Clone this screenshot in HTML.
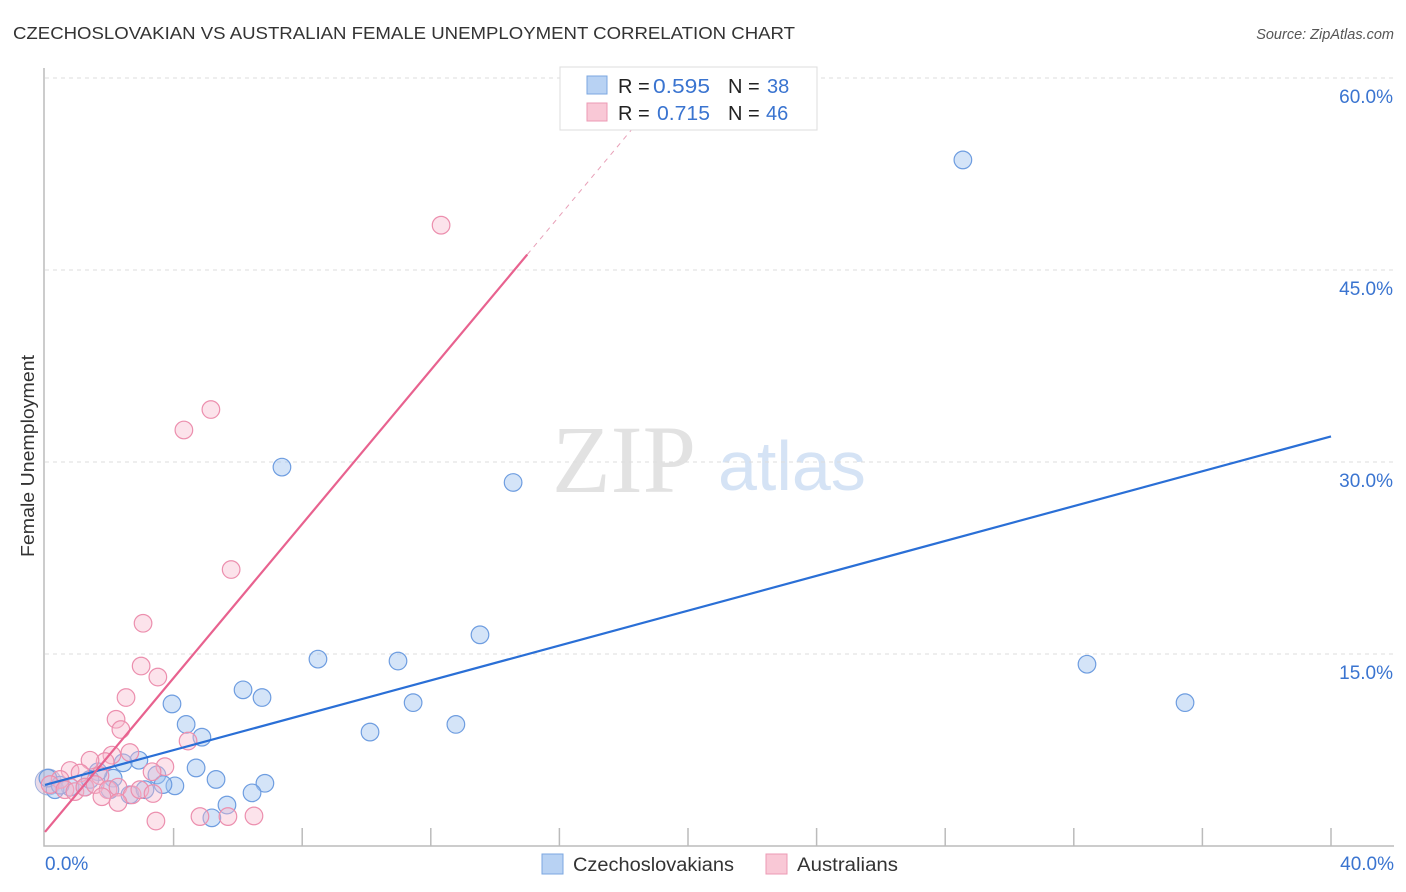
<!DOCTYPE html>
<html><head><meta charset="utf-8"><style>
body{margin:0;background:#fff;font-family:"Liberation Sans",sans-serif;}
svg{display:block}
</style></head><body>
<svg id="chart" width="1406" height="892">
<text x="13" y="39" font-size="17.5" fill="#333" textLength="782" lengthAdjust="spacingAndGlyphs">CZECHOSLOVAKIAN VS AUSTRALIAN FEMALE UNEMPLOYMENT CORRELATION CHART</text>
<text x="1394" y="39" font-size="14.5" fill="#555" font-style="italic" text-anchor="end">Source: ZipAtlas.com</text>
<text x="34" y="456" font-size="18" fill="#333" text-anchor="middle" textLength="202" lengthAdjust="spacingAndGlyphs" transform="rotate(-90 34 456)">Female Unemployment</text>
<g>
<text x="552" y="492" font-size="96" fill="#e2e2e2" font-family="Liberation Serif,serif">ZIP</text>
<text x="718" y="490" font-size="70" fill="#d5e3f5">atlas</text>
</g>
<g id="grid"></g><g id="axes"></g><g id="pts"></g><g id="lines"></g>
<g>
<rect x="560" y="67" width="257" height="63" fill="#fff" stroke="#ddd"/>
<rect x="587" y="76" width="20" height="18" fill="#b8d2f3" stroke="#7ba7e0"/>
<rect x="587" y="103" width="20" height="18" fill="#f9c8d6" stroke="#ec9ab4"/>
<text y="93" font-size="20" fill="#222"><tspan x="618">R =</tspan><tspan x="653" fill="#3a74d0" textLength="57" lengthAdjust="spacingAndGlyphs">0.595</tspan><tspan x="728">N =</tspan><tspan x="767" fill="#3a74d0">38</tspan></text>
<text y="120" font-size="20" fill="#222"><tspan x="618">R =</tspan><tspan x="657" fill="#3a74d0" textLength="53" lengthAdjust="spacingAndGlyphs">0.715</tspan><tspan x="728">N =</tspan><tspan x="766" fill="#3a74d0">46</tspan></text>
</g>
<g>
<rect x="542" y="854" width="21" height="20" fill="#b8d2f3" stroke="#7ba7e0"/>
<text x="573" y="871" font-size="19" fill="#333" textLength="161" lengthAdjust="spacingAndGlyphs">Czechoslovakians</text>
<rect x="766" y="854" width="21" height="20" fill="#f9c8d6" stroke="#ec9ab4"/>
<text x="797" y="871" font-size="19" fill="#333" textLength="101" lengthAdjust="spacingAndGlyphs">Australians</text>
</g>
</svg>
<script>
const yTicks=[15,30,45,60];
const blueX=[28.55,7.37,14.56,13.53,8.49,10.98,32.41,35.46,11.45,12.78,10.11,6.16,6.75,3.95,4.39,4.88,2.92,2.43,3.48,4.70,5.32,6.84,2.12,1.65,4.04,3.67,5.66,6.44,5.19,2.64,1.24,0.78,0.31,0.09,0.47,2.02,3.11,1.40];
const blueY=[53.6,29.6,28.4,16.5,14.6,14.45,14.2,11.2,11.2,9.5,8.9,12.2,11.6,11.1,9.5,8.5,6.7,6.5,5.55,6.1,5.2,4.9,5.3,5.8,4.7,4.8,3.2,4.15,2.2,4.0,4.6,4.6,4.4,5.3,4.75,4.4,4.4,5.2];
const pinkX=[12.32,5.16,4.32,5.79,3.05,2.99,3.51,2.52,2.21,2.36,4.45,2.64,2.08,3.73,1.87,3.33,1.40,0.78,1.09,1.71,0.47,0.16,0.62,0.93,1.24,1.56,1.96,2.27,2.71,2.95,3.36,1.77,2.27,3.45,4.82,5.69,6.50];
const pinkY=[48.5,34.1,32.5,21.6,17.4,14.06,13.2,11.6,9.9,9.1,8.2,7.3,7.1,6.2,6.6,5.8,6.7,5.9,5.7,5.5,5.2,4.8,4.4,4.25,4.6,4.8,4.4,4.6,4.0,4.4,4.1,3.85,3.4,1.95,2.3,2.3,2.35];
const blueLine=[4.77,32.0];
const pinkLine=[1.1,3.007];
const NS='http://www.w3.org/2000/svg';
const sx=v=>45+v*32.15, sy=v=>846-v*12.8;
function mk(t,a,p){const e=document.createElementNS(NS,t);for(const k in a)e.setAttribute(k,a[k]);p.appendChild(e);return e;}
const grid=document.getElementById('grid'),axes=document.getElementById('axes'),pts=document.getElementById('pts'),lines=document.getElementById('lines');
yTicks.forEach(t=>{const l=mk('line',{x1:45,x2:1394,y1:sy(t),y2:sy(t),stroke:'#ddd','stroke-dasharray':'4,4'},grid);


const tx=mk('text',{x:1393,y:sy(t)+25,'font-size':19,fill:'#3a74d0','text-anchor':'end'},axes);tx.textContent=t.toFixed(1)+'%';

});
const ax=mk('path',{d:'M44 68V846H1394',fill:'none',stroke:'#bbb','stroke-width':1.5},axes);


for(let i=1;i<=10;i++){const t=mk('line',{x1:sx(i*4),x2:sx(i*4),y1:828,y2:846,stroke:'#bbb','stroke-width':1.5},axes);

}
[['0.0%',45,'start'],['40.0%',1394,'end']].forEach(a=>{const t=mk('text',{x:a[1],y:870,'font-size':19,fill:'#3a74d0','text-anchor':a[2]},axes);t.textContent=a[0];

});
const big1=mk('circle',{cx:sx(0.1),cy:sy(5.0),r:13,fill:'rgba(190,150,190,0.35)',stroke:'#9fb0dd'},pts);


blueX.forEach((x,i)=>{const c=mk('circle',{cx:sx(x),cy:sy(blueY[i]),r:8.8,fill:'rgba(160,196,240,0.45)',stroke:'#6e9de0','stroke-width':1.2},pts);

});
pinkX.forEach((x,i)=>{const c=mk('circle',{cx:sx(x),cy:sy(pinkY[i]),r:8.8,fill:'rgba(248,185,205,0.4)',stroke:'#ec8fae','stroke-width':1.2},pts);

});
const bl=mk('line',{x1:sx(0),y1:sy(blueLine[0]),x2:sx(40),y2:sy(blueLine[1]),stroke:'#2a6fd6','stroke-width':2.2},lines);


const pl=mk('line',{x1:sx(0),y1:sy(pinkLine[0]),x2:sx(15),y2:sy(pinkLine[0]+pinkLine[1]*15),stroke:'#e8628f','stroke-width':2.2},lines);


const xe=(60-pinkLine[0])/pinkLine[1];
const pd=mk('line',{x1:sx(15),y1:sy(pinkLine[0]+pinkLine[1]*15),x2:sx(xe),y2:sy(60),stroke:'#e8a0b8','stroke-width':1,'stroke-dasharray':'5,5'},lines);


</script>
</body></html>
